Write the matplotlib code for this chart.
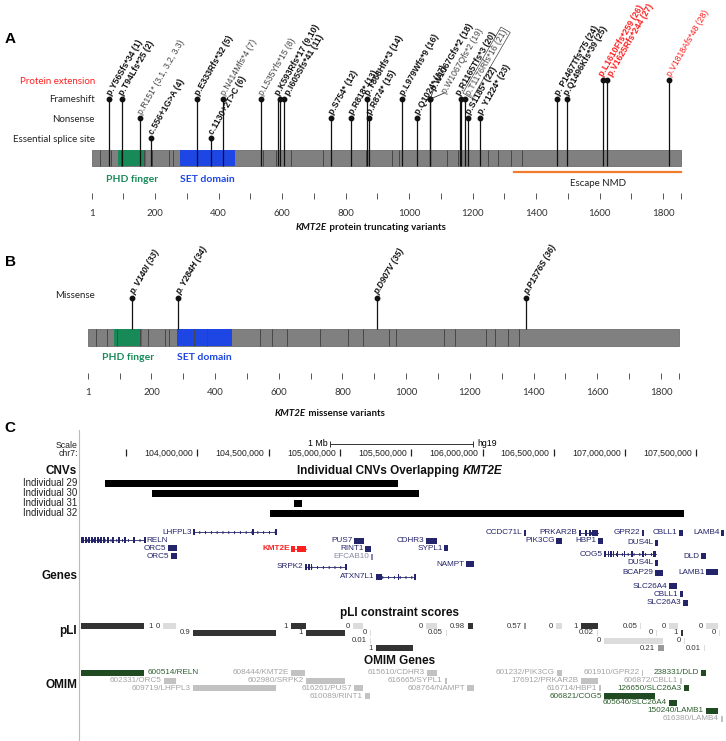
import matplotlib
matplotlib.use('Agg')
import matplotlib.pyplot as plt
from matplotlib import transforms
from matplotlib.patches import Rectangle

plt.rcParams['font.family'] = ['Liberation Sans', 'DejaVu Sans']
LATO = ['Lato', 'DejaVu Sans']

W, H = 726, 741

# ---------------- KMT2E protein (panels A and B) ----------------
protein_len = 1858
phd_finger = (83, 171)
set_domain = (279, 452)
exon_bounds = [25, 60, 92, 165, 190, 243, 256, 333, 375, 540, 580, 627, 730,
               817, 865, 947, 967, 1120, 1153, 1250, 1280, 1320, 1355]
ruler_ticks = [1] + list(range(100, 1801, 100)) + [1858]
ruler_labels = [1, 200, 400, 600, 800, 1000, 1200, 1400, 1600, 1800]
escape_nmd = (1331, 1858)

# truncating variants (panel A)
ptv_pos = [56, 94, 151, 186, 333, 377, 414, 535, 593, 605, 754, 818, 868, 874,
           979, 1024, 1067, 1067, 1165, 1176, 1185, 1224, 1467, 1496, 1610, 1625, 1818]
ptv_type = ['fs', 'fs', 'ns', 'ss', 'fs', 'ss', 'fs', 'fs', 'fs', 'fs', 'ns', 'ns', 'fs', 'ns',
            'fs', 'ns', 'fs', 'fs', 'fs', 'fs', 'ns', 'ns', 'fs', 'fs', 'ext', 'ext', 'ext']
ptv_labels = ['p.Y56Sfs*34 (1)', 'p.T94Lfs*25 (2)', 'p.R151* (3.1, 3.2, 3.3)', 'c.556+1G>A (4)',
              'p.E333Rfs*32 (5)', 'c.1130+2T>C (6)', 'p.N414Mfs*4 (7)', 'p.L535Yfs*15 (8)',
              'p.K593Rfs*17 (9,10)', 'p.I605Sfs*41 (11)', 'p.S754* (12)', 'p.R818* (13)',
              'p.T868Hfs*3 (14)', 'p.R874* (15)', 'p.L979Wfs*9 (16)', 'p.Q1024* (17)',
              'p.W1067Gfs*2 (18)', 'p.W1067Qfs*2 (19)', 'p.R1165Tfs*3 (20)', 'p.T1176Rfs*16 (21)',
              'p.S1185* (22)', 'p. Y1224* (23)', 'p. P1467Tfs*75 (24)', 'p.Q1496Kfs*39 (25)',
              'p.L1610Ffs*259 (26)', 'p.V1625Rfs*244 (27)', 'p.V1818Afs*48 (28)']
ptv_bold = [1, 1, 0, 1, 1, 1, 0, 0, 1, 1, 1, 1, 1, 1, 1, 1, 1, 0, 1, 0, 1, 1, 1, 1, 1, 1, 0]
extra_stems = [588, 1159]
leader_offsets = {16: (3, 9), 17: (14, 6)}
label_offsets = {8: (-3, 4), 9: (3, 4), 18: (-3, 4), 19: (3, 4), 24: (-2, 4), 25: (3, 4)}
boxed_labels = [19]

row_names = ['Protein extension', 'Frameshift', 'Nonsense', 'Essential splice site']
row_types = ['ext', 'fs', 'ns', 'ss']
level_y = {'ext': 80, 'fs': 99, 'ns': 118, 'ss': 138}

# missense variants (panel B)
mis_pos = [140, 284, 907, 1376]
mis_labels = ['p. V140I (33)', 'p. Y284H (34)', 'p.D907V (35)', 'p.P1376S (36)']

# ---------------- chr7 region (panel C), positions in Mb (hg19) ----------------
chrom_ticks = [103.5, 104.0, 104.5, 105.0, 105.5, 106.0, 106.5, 107.0, 107.5]
scale_bar = (104.93, 105.93)

cnv_names = ['Individual 29', 'Individual 30', 'Individual 31', 'Individual 32']
cnv_start = [103.352, 103.682, 104.677, 104.509]
cnv_end = [105.407, 105.554, 104.734, 107.412]

gene_names = ['RELN', 'LHFPL3', 'ORC5', 'ORC5', 'KMT2E', 'SRPK2', 'PUS7', 'RINT1', 'EFCAB10',
              'ATXN7L1', 'CDHR3', 'SYPL1', 'NAMPT', 'CCDC71L', 'PIK3CG', 'PRKAR2B', 'HBP1',
              'COG5', 'GPR22', 'DUS4L', 'DUS4L', 'BCAP29', 'SLC26A4', 'CBLL1', 'CBLL1',
              'SLC26A3', 'DLD', 'LAMB1', 'LAMB4']
gene_start = [103.184, 103.969, 103.794, 103.815, 104.656, 104.755, 105.098, 105.175, 105.217,
              105.252, 105.603, 105.729, 105.884, 106.290, 106.515, 106.676, 106.809,
              106.851, 107.118, 107.209, 107.209, 107.209, 107.307, 107.377, 107.384,
              107.405, 107.532, 107.567, 107.672]
gene_end = [103.633, 104.551, 103.857, 103.857, 104.762, 105.042, 105.168, 105.217, 105.224,
            105.526, 105.680, 105.757, 105.940, 106.304, 106.557, 106.809, 106.844,
            107.216, 107.132, 107.230, 107.230, 107.265, 107.363, 107.405, 107.405,
            107.440, 107.567, 107.651, 107.693]
gene_row = [540, 532, 548, 556, 549, 567, 541, 549, 557,
            577, 541, 548, 564, 533, 541, 533, 541,
            554, 533, 543, 563, 573, 586, 533, 594,
            603, 556, 572, 533]
gene_exons = {
    'RELN': [(103.184, 103.205), (103.215, 103.226), (103.233, 103.247), (103.254, 103.268),
             (103.278, 103.289), (103.296, 103.306), (103.317, 103.327), (103.338, 103.349),
             (103.366, 103.373), (103.401, 103.408), (103.443, 103.450), (103.485, 103.492),
             (103.548, 103.555), (103.626, 103.633)],
    'LHFPL3': [(103.969, 103.975), (104.383, 104.390), (104.545, 104.551)],
    'KMT2E': [(104.656, 104.660), (104.672, 104.678), (104.700, 104.762)],
    'SRPK2': [(104.755, 104.770), (104.775, 104.790), (104.795, 104.805), (105.036, 105.042)],
    'ATXN7L1': [(105.252, 105.262), (105.268, 105.278), (105.283, 105.295),
                (105.405, 105.410), (105.520, 105.526)],
    'PRKAR2B': [(106.676, 106.685), (106.720, 106.728), (106.745, 106.755), (106.770, 106.809)],
    'COG5': [(106.851, 106.868), (106.876, 106.884), (106.893, 106.901), (106.911, 106.918),
             (106.940, 106.946), (106.990, 106.996), (107.040, 107.046), (107.120, 107.125),
             (107.195, 107.216)],
}

pli_start = [103.184, 103.759, 104.656, 105.091, 105.603, 105.898, 106.293, 106.515, 106.690,
             107.104, 107.307, 107.567,
             103.969, 104.762, 105.210, 105.743, 106.802, 107.216, 107.391, 107.658,
             105.210, 106.851, 107.412,
             105.252, 107.230, 107.553]
pli_end = [103.626, 103.850, 104.762, 105.161, 105.680, 105.933, 106.300, 106.557, 106.809,
           107.111, 107.370, 107.651,
           104.551, 105.035, 105.217, 105.750, 106.809, 107.223, 107.405, 107.665,
           105.217, 107.265, 107.419,
           105.512, 107.272, 107.560]
pli_value = [1, 0, 1, 0, 0, 0.98, 0.57, 0, 1, 0.05, 0, 0,
             0.9, 1, 0, 0.05, 0.02, 0, 1, 0,
             0.01, 0, 0,
             1, 0.21, 0.01]
pli_row = [626] * 12 + [633] * 8 + [641] * 3 + [648] * 3

omim_labels = ['600514/RELN', '608444/KMT2E', '615610/CDHR3', '601232/PIK3CG', '601910/GPR22',
               '238331/DLD', '602331/ORC5', '602980/SRPK2', '616665/SYPL1', '176912/PRKAR2B',
               '606872/CBLL1', '609719/LHFPL3', '616261/PUS7', '608764/NAMPT', '616714/HBP1',
               '126650/SLC26A3', '610089/RINT1', '606821/COG5', '605646/SLC26A4',
               '150240/LAMB1', '616380/LAMB4']
omim_start = [103.184, 104.656, 105.610, 106.522, 107.118, 107.532, 103.766, 104.762, 105.736,
              106.690, 107.384, 103.969, 105.098, 105.891, 106.816, 107.412, 105.175,
              106.851, 107.307, 107.567, 107.672]
omim_end = [103.626, 104.755, 105.680, 106.557, 107.125, 107.567, 103.850, 105.035, 105.750,
            106.809, 107.398, 104.551, 105.161, 105.940, 106.830, 107.447, 105.210,
            107.209, 107.363, 107.651, 107.686]
omim_row = [673, 673, 673, 673, 673, 673, 681, 681, 681, 681, 681, 688, 688, 688, 688, 688,
            696, 696, 703, 711, 719]
omim_disease = [1, 0, 0, 0, 0, 1, 0, 0, 0, 0, 0, 0, 0, 0, 0, 1, 0, 1, 1, 1, 0]

# ---------------- colours ----------------
PHD_COL = '#188a58'
SET_COL = '#1d46e4'
RED = '#ff1f1f'
NAVY = '#24246a'
DARK_GREEN = '#1f4a22'

fig = plt.figure(figsize=(W / 100, H / 100), dpi=100)


def px_axes(top, bottom, xlim):
    ax = fig.add_axes([0, 1 - bottom / H, 1, (bottom - top) / H])
    ax.set_xlim(*xlim)
    ax.set_ylim(bottom, top)
    ax.set_axis_off()
    return ax


def rich_text(ax, trans, xc, y, parts, **kw):
    r = fig.canvas.get_renderer()
    texts = [ax.text(0, y, s, transform=trans, ha='left', va='center', **kw, **extra)
             for s, extra in parts]
    widths = [t.get_window_extent(renderer=r).width for t in texts]
    x = xc - sum(widths) / 2
    for t, w in zip(texts, widths):
        t.set_x(x / W)
        x += w


def draw_protein(ax, y0, y1, dom_y, tick_y, lab_y):
    ax.add_patch(Rectangle((1, y0), protein_len - 1, y1 - y0, fc='#808080', ec='#6c6c6c',
                           lw=0.6, zorder=1))
    ax.add_patch(Rectangle((phd_finger[0], y0), phd_finger[1] - phd_finger[0], y1 - y0,
                           fc=PHD_COL, lw=0, zorder=2))
    ax.add_patch(Rectangle((set_domain[0], y0), set_domain[1] - set_domain[0], y1 - y0,
                           fc=SET_COL, lw=0, zorder=2))
    ax.vlines(exon_bounds, y0, y1, color='#474747', lw=0.7, zorder=3)
    ax.text(sum(phd_finger) / 2, dom_y, 'PHD finger', color=PHD_COL, fontweight='bold',
            ha='center', va='center', fontsize=7.5, family=LATO)
    ax.text(sum(set_domain) / 2, dom_y, 'SET domain', color=SET_COL, fontweight='bold',
            ha='center', va='center', fontsize=7.5, family=LATO)
    ax.vlines(ruler_ticks, tick_y, tick_y + 6, color='#555555', lw=0.7)
    for t in ruler_labels:
        ax.text(t, lab_y, str(t), ha='center', va='center', fontsize=7, family=LATO,
                color='#333333')


def stem_label(ax, x, y, s, color, bold, italic=False, off=(0, 4), leader=False, boxed=False):
    kw = dict(rotation=60, rotation_mode='anchor', ha='left', va='center', fontsize=6.2,
              color=color, fontweight='bold' if bold else 'normal',
              fontstyle='italic' if italic else 'normal')
    if boxed:
        kw['bbox'] = dict(boxstyle='square,pad=0.1', fc='none', ec='#444444', lw=0.5)
    ax.annotate(s, xy=(x, y), xytext=off, textcoords='offset pixels', **kw)
    if leader:
        ax.annotate('', xy=(x, y), xytext=off, textcoords='offset pixels',
                    arrowprops=dict(arrowstyle='-', lw=0.6, color='#333333',
                                    shrinkA=0, shrinkB=0))


# ================= Panel A =================
axA = px_axes(0, 250, (-288.85, 1998.5))
transA = transforms.blended_transform_factory(axA.transAxes, axA.transData)
draw_protein(axA, 150, 166, 179, 193, 213)

for name, rt in zip(row_names, row_types):
    axA.text(95 / W, level_y[rt] + 1, name, transform=transA, ha='right', va='center',
             fontsize=7, family=LATO, color=RED if rt == 'ext' else '#222222')

ys = [level_y[t] for t in ptv_type]
axA.vlines(ptv_pos, ys, 166, color='#111111', lw=0.9, zorder=4)
axA.vlines(extra_stems, level_y['fs'], 166, color='#111111', lw=0.9, zorder=4)
axA.plot(ptv_pos, ys, 'o', ms=3.2, color='#111111', zorder=5)
for i, (p, y, s) in enumerate(zip(ptv_pos, ys, ptv_labels)):
    col = RED if ptv_type[i] == 'ext' else ('#111111' if ptv_bold[i] else '#444444')
    off = leader_offsets.get(i, label_offsets.get(i, (0, 4)))
    stem_label(axA, p, y, s, col, ptv_bold[i], off=off, leader=i in leader_offsets,
               boxed=i in boxed_labels)

axA.plot(escape_nmd, [172, 172], color='#f07c2c', lw=1.6)
axA.text(sum(escape_nmd) / 2, 184, 'Escape NMD', ha='center', va='center', fontsize=7,
         family=LATO, color='#222222')
rich_text(axA, transA, 371, 228,
          [('KMT2E', dict(fontstyle='italic')), (' protein truncating variants', {})],
          fontsize=7, fontweight='bold', family=LATO, color='#111111')

# ================= Panel B =================
axB = px_axes(250, 430, (-275.3, 2004.1))
transB = transforms.blended_transform_factory(axB.transAxes, axB.transData)
draw_protein(axB, 329, 346, 357, 373, 392)
axB.text(95 / W, 295, 'Missense', transform=transB, ha='right', va='center', fontsize=7,
         family=LATO, color='#222222')
axB.vlines(mis_pos, 298, 329, color='#111111', lw=0.9, zorder=4)
axB.plot(mis_pos, [298] * len(mis_pos), 'o', ms=3.2, color='#111111', zorder=5)
for p, s in zip(mis_pos, mis_labels):
    stem_label(axB, p, 298, s, '#111111', True, italic=True)
rich_text(axB, transB, 330, 413,
          [('KMT2E', dict(fontstyle='italic')), (' missense variants', {})],
          fontsize=7, fontweight='bold', family=LATO, color='#111111')

# ================= Panel C =================
axC = px_axes(430, 741, (102.6157, 107.7069))
transC = transforms.blended_transform_factory(axC.transAxes, axC.transData)
axC.plot([79 / W, 79 / W], [430, 741], transform=transC, color='#f2a3a3', lw=0.8)

# ruler
axC.text(78 / W, 445, 'Scale', transform=transC, ha='right', va='center', fontsize=6.3,
         color='#222222')
axC.text(78 / W, 453, 'chr7:', transform=transC, ha='right', va='center', fontsize=6.3,
         color='#222222')
axC.plot(scale_bar, [444, 444], color='#333333', lw=0.7)
axC.vlines(scale_bar, 441, 447, color='#333333', lw=0.7)
axC.text(scale_bar[0] - 0.02, 444, '1 Mb', ha='right', va='center', fontsize=6.3)
axC.text(scale_bar[1] + 0.03, 443, 'hg19', ha='left', va='center', fontsize=6.3)
axC.vlines(chrom_ticks, 449, 456, color='#222222', lw=0.9)
for t in chrom_ticks[1:]:
    axC.text(t - 0.03, 453, '{:,}'.format(int(round(t * 1e6))), ha='right', va='center',
             fontsize=6.3, color='#222222')

# track labels
for name, y in [('CNVs', 471), ('Genes', 576), ('pLI', 631), ('OMIM', 685)]:
    axC.text(77 / W, y, name, transform=transC, ha='right', va='center', fontsize=8.5,
             fontweight='bold', color='#111111')
rich_text(axC, transC, 400, 471,
          [('Individual CNVs Overlapping ', {}), ('KMT2E', dict(fontstyle='italic'))],
          fontsize=8.5, fontweight='bold', color='#111111')
axC.text(400 / W, 613, 'pLI constraint scores', transform=transC, ha='center', va='center',
         fontsize=8.5, fontweight='bold', color='#111111')
axC.text(400 / W, 661, 'OMIM Genes', transform=transC, ha='center', va='center',
         fontsize=8.5, fontweight='bold', color='#111111')

# CNVs
for k, (name, s, e) in enumerate(zip(cnv_names, cnv_start, cnv_end)):
    y = 483 + 10 * k
    axC.text(77 / W, y, name, transform=transC, ha='right', va='center', fontsize=7,
             color='#222222')
    axC.add_patch(Rectangle((s, y - 3.5), e - s, 7, fc='#000000', lw=0))

# genes
MINW = 0.012
for name, s, e, y in zip(gene_names, gene_start, gene_end, gene_row):
    col = RED if name == 'KMT2E' else ('#8a8aa8' if name == 'EFCAB10' else NAVY)
    ex = gene_exons.get(name)
    if ex:
        axC.plot([s, e], [y, y], color=col, lw=0.6)
        axC.plot([s, e], [y, y], color=col, lw=2.2, dashes=(0.3, 1.6), dash_capstyle='butt')
        for a, b in ex:
            axC.add_patch(Rectangle((a, y - 3), max(b - a, MINW), 6, fc=col, lw=0))
    else:
        axC.add_patch(Rectangle((s, y - 3), max(e - s, MINW), 6, fc=col, lw=0))
    if name == 'RELN':
        axC.text(e + 0.012, y, name, ha='left', va='center', fontsize=5.9, color=col)
    else:
        axC.text(s - 0.01, y, name, ha='right', va='center', fontsize=5.9, color=col,
                 fontweight='bold' if name == 'KMT2E' else 'normal')

# pLI
for s, e, v, y in zip(pli_start, pli_end, pli_value, pli_row):
    col = '#333333' if v >= 0.9 else ('#999999' if v >= 0.1 else '#dcdcdc')
    axC.add_patch(Rectangle((s, y - 3), max(e - s, 0.008), 6, fc=col, lw=0))
    if s < 103.3:
        axC.text(e + 0.03, y, '{:g}'.format(v), ha='left', va='center', fontsize=5.6,
                 color='#333333')
    else:
        axC.text(s - 0.02, y, '{:g}'.format(v), ha='right', va='center', fontsize=5.6,
                 color='#333333')

# OMIM
for lab, s, e, y, d in zip(omim_labels, omim_start, omim_end, omim_row, omim_disease):
    bar_col = DARK_GREEN if d else '#c2c2c2'
    txt_col = '#2e5e2e' if d else '#a3a3a3'
    axC.add_patch(Rectangle((s, y - 3), max(e - s, 0.01), 6, fc=bar_col, lw=0))
    if s < 103.3:
        axC.text(e + 0.025, y, lab, ha='left', va='center', fontsize=5.9, color=txt_col)
    else:
        axC.text(s - 0.015, y, lab, ha='right', va='center', fontsize=5.9, color=txt_col)

# panel letters
for letter, y in [('A', 39), ('B', 262), ('C', 428)]:
    fig.text(10 / W, 1 - y / H, letter, ha='center', va='center', fontsize=11,
             fontweight='bold')

fig.savefig('out.png', dpi=100)
